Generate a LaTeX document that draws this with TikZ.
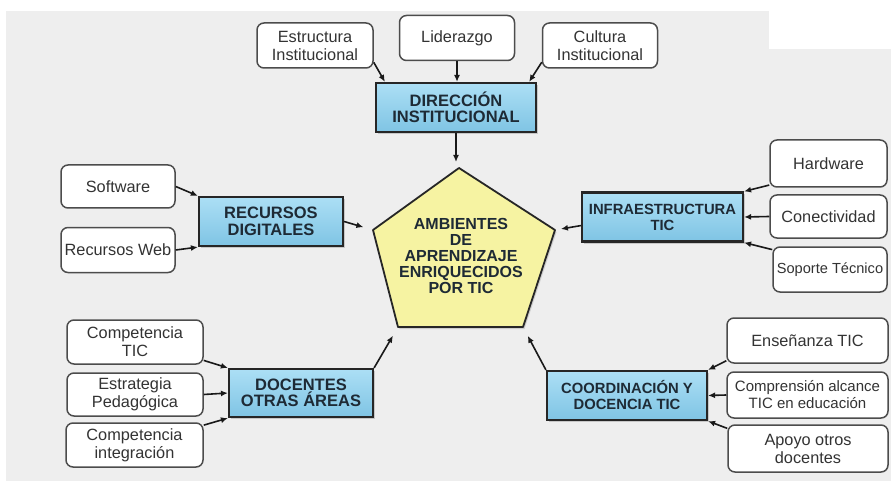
\documentclass[tikz,border=0pt]{standalone}
\usepackage{fontspec}
\setmainfont{Liberation Sans}
\usepackage{tikz}
\usetikzlibrary{arrows.meta,shadows}
\definecolor{fondo}{HTML}{EEEEEE}
\definecolor{azulA}{HTML}{ACDFF5}
\definecolor{azulB}{HTML}{7FC4E4}
\definecolor{amarillo}{HTML}{F6F3A2}
\definecolor{texto}{HTML}{333333}
\definecolor{tinta}{HTML}{1E2A35}
\begin{document}
\begin{tikzpicture}[x=1pt, y=-1pt,
  leaf/.style={draw=black!70, line width=1.5pt, rounded corners=7pt, fill=white,
    text=texto, align=center, inner sep=0pt, minimum height=45pt,
    font=\fontsize{16.3}{18}\selectfont},
  hub/.style={draw=black!85, line width=2.2pt, top color=azulA, bottom color=azulB,
    text=tinta, align=center, inner sep=0pt, minimum height=49pt,
    drop shadow={shadow xshift=1.5pt, shadow yshift=-2pt, opacity=0.35},
    font=\fontsize{16.5}{16.5}\selectfont\bfseries},
  arr/.style={-{Latex[length=7pt,width=6pt]}, line width=1.6pt, black!90}]
\useasboundingbox (0,0) rectangle (891,481);
\fill[white] (0,0) rectangle (891,481);
\fill[fondo] (6,11) rectangle (891,481);
\fill[white] (769,11) rectangle (891,49);
% centre
\coordinate (p1) at (459,168);
\coordinate (p2) at (373,230);
\coordinate (p3) at (398,327);
\coordinate (p4) at (523,327);
\coordinate (p5) at (555,230);
\filldraw[fill=amarillo, draw=black!85, line width=1.8pt, line join=round,
  drop shadow={shadow xshift=1.5pt, shadow yshift=-2pt, opacity=0.3}]
  (p1) -- (p2) -- (p3) -- (p4) -- (p5) -- cycle;
\node[align=center, text=tinta, font=\fontsize{16}{16}\selectfont\bfseries] (amb) at (461,256)
  {AMBIENTES\\DE\\APRENDIZAJE\\ENRIQUECIDOS\\POR TIC};
% direccion
\node[leaf, minimum width=116pt] (est) at (315,45.5) {Estructura\\Institucional};
\node[leaf, minimum width=115pt] (lid) at (457,38) {Liderazgo};
\node[leaf, minimum width=115pt] (cul) at (600,45.5) {Cultura\\Institucional};
\node[hub, minimum width=160pt] (dir) at (456,107.5) {DIRECCIÓN\\INSTITUCIONAL};
\draw[arr] (est.-16) -- ([xshift=10pt]dir.north west);
\draw[arr] (lid.south) -- (lid.south |- dir.north);
\draw[arr] (cul.196) -- ([xshift=-8pt]dir.north east);
\draw[arr, shorten >=6pt] (dir.south) -- (dir.south |- p1);
% recursos
\node[leaf, minimum width=114pt, minimum height=43pt] (sw) at (118,186.5) {Software};
\node[leaf, minimum width=114pt] (web) at (118,250) {Recursos Web};
\node[hub, minimum width=144pt] (rec) at (271,221.5) {RECURSOS\\DIGITALES};
\draw[arr] (sw.east) -- (rec.north west);
\draw[arr] (web.east) -- (rec.south west);
\draw[arr, shorten >=10pt] (rec.east) -- (p2);
% infraestructura
\node[leaf, minimum width=117pt, minimum height=47pt] (hw) at (828.5,163.5) {Hardware};
\node[leaf, minimum width=117pt, minimum height=43pt] (con) at (828.5,216.5) {Conectividad};
\node[leaf, minimum width=114pt, font=\fontsize{14.6}{16}\selectfont] (sop) at (830,269.5) {Soporte Técnico};
\node[hub, minimum width=161pt, font=\fontsize{14.8}{16}\selectfont\bfseries] (inf) at (662.5,217) {INFRAESTRUCTURA\\TIC};
\draw[arr] (hw.200) -- (inf.north east);
\draw[arr] (con.west) -- (inf.east);
\draw[arr] (sop.161) -- (inf.south east);
\draw[arr, shorten >=6pt] (inf.186) -- (p5);
% docentes
\node[leaf, minimum width=136pt, minimum height=44pt] (ct) at (135,342) {Competencia\\TIC};
\node[leaf, minimum width=136pt, minimum height=43pt] (eped) at (135,394.5) {Estrategia\\Pedagógica};
\node[leaf, minimum width=137pt, minimum height=44pt] (ci) at (134.5,445) {Competencia\\integración};
\node[hub, minimum width=144pt, minimum height=48pt] (doc) at (301,393) {DOCENTES\\OTRAS ÁREAS};
\draw[arr] (ct.-15) -- (doc.north west);
\draw[arr] (eped.east) -- (doc.west);
\draw[arr] (ci.16) -- (doc.south west);
\draw[arr, shorten >=10pt] (doc.north east) -- (p3);
% coordinacion
\node[leaf, minimum width=161pt] (ens) at (807.5,340.5) {Enseñanza TIC};
\node[leaf, minimum width=161pt, minimum height=46pt, font=\fontsize{15}{17}\selectfont] (com) at (807.5,395) {Comprensión alcance\\TIC en educación};
\node[leaf, minimum width=160pt, minimum height=47pt] (apo) at (808,448.5) {Apoyo otros\\docentes};
\node[hub, minimum width=160pt, font=\fontsize{14.8}{16}\selectfont\bfseries] (coo) at (627,395.5) {COORDINACIÓN Y\\DOCENCIA TIC};
\draw[arr] (ens.194) -- (coo.north east);
\draw[arr] (com.west) -- (coo.east);
\draw[arr] (apo.166) -- (coo.south east);
\draw[arr, shorten >=10pt] (coo.north west) -- (p4);
\end{tikzpicture}
\end{document}
